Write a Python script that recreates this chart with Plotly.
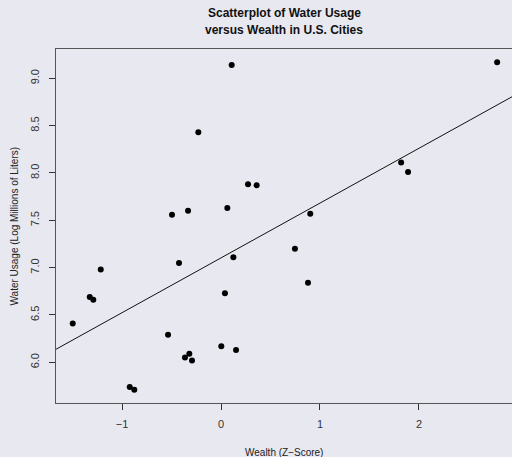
import plotly.graph_objects as go
import numpy as np

wealth = [0.108, -0.229, 0.273, 0.36, -0.495, -0.333, 0.064,
          -0.424, 0.125, -1.215, -1.326, -1.29, 0.04, -1.498,
          -0.535, 0.003, 0.152, -0.32, -0.364, -0.293, -0.922, -0.876,
          2.79, 1.82, 1.89, 0.902, 0.747, 0.879]
water = [9.14, 8.43, 7.88, 7.87, 7.56, 7.60, 7.63,
         7.05, 7.11, 6.98, 6.69, 6.66, 6.73, 6.41,
         6.29, 6.17, 6.13, 6.09, 6.05, 6.02, 5.74, 5.71,
         9.17, 8.11, 8.01, 7.57, 7.20, 6.84]
fit_intercept = 7.103
fit_slope = 0.579
x_ticks = [-1, 0, 1, 2]
y_ticks = [6.0, 6.5, 7.0, 7.5, 8.0, 8.5, 9.0]
title_lines = ["Scatterplot of Water Usage", "versus Wealth in U.S. Cities"]

xr = [-1.667, 2.94]
yr = [5.57, 9.31]

bg = "#E8E8F0"
font = "Liberation Sans, Arial, sans-serif"

fig = go.Figure()
line_x = np.array(xr)
fig.add_trace(go.Scatter(x=line_x, y=fit_intercept + fit_slope * line_x, mode="lines",
                         line=dict(color="#111111", width=1), hoverinfo="skip", showlegend=False))
fig.add_trace(go.Scatter(x=wealth, y=water, mode="markers",
                         marker=dict(color="black", size=6), showlegend=False))

fig.update_layout(
    width=512, height=457,
    margin=dict(l=56, r=0, t=49, b=54),
    paper_bgcolor=bg, plot_bgcolor=bg,
    font=dict(family=font, color="#222222"),
    xaxis=dict(range=xr, tickvals=x_ticks, ticktext=["\u22121", "0", "1", "2"],
               showgrid=False, zeroline=False, showline=True, linecolor="#555555", linewidth=1,
               mirror=True, ticks="outside", ticklen=6, tickcolor="#333333",
               ticklabelstandoff=5,
               tickfont=dict(size=11, color="#333333")),
    yaxis=dict(range=yr, tickvals=y_ticks, tickformat=".1f", tickangle=-90,
               showgrid=False, zeroline=False, showline=True, linecolor="#555555", linewidth=1,
               mirror=True, ticks="outside", ticklen=6, tickcolor="#333333",
               ticklabelstandoff=6,
               tickfont=dict(size=11, color="#333333")),
    annotations=[
        dict(text="<b>" + title_lines[0] + "</b>",
             xref="paper", yref="paper", x=0.5, y=1, yshift=36, xanchor="center", yanchor="middle",
             showarrow=False, font=dict(size=12, color="#111111", family=font)),
        dict(text="<b>" + title_lines[1] + "</b>",
             xref="paper", yref="paper", x=0.5, y=1, yshift=19, xanchor="center", yanchor="middle",
             showarrow=False, font=dict(size=12, color="#111111", family=font)),
        dict(text="Wealth (Z\u2212Score)", xref="paper", yref="paper", x=0.5, y=0,
             yshift=-42, xanchor="center", yanchor="top", showarrow=False,
             font=dict(size=10, color="#222222", family=font)),
        dict(text="Water Usage (Log Millions of Liters)", xref="paper", yref="paper",
             x=0, y=0.5, xshift=-50, xanchor="left", yanchor="middle", textangle=-90,
             showarrow=False, font=dict(size=10, color="#222222", family=font)),
    ],
)
fig.write_html("out.html", config={"displayModeBar": False},
               post_script="document.body.style.margin='0';document.body.style.background='#E8E8F0';document.body.style.overflow='hidden';")
